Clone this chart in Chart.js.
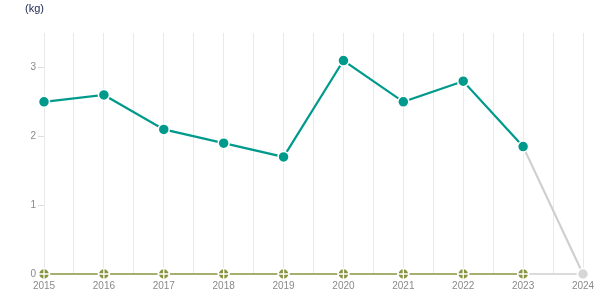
<!DOCTYPE html>
<html><head><meta charset="utf-8">
<script src="https://cdn.jsdelivr.net/npm/chart.js@4"></script>
<style>
body{margin:0;background:#fff;}
#wrap{position:relative;width:615px;height:305px;}
#unit{position:absolute;left:25px;top:2px;font:11px "Liberation Sans",Arial,sans-serif;color:#222a55;}
canvas{position:absolute;left:0;top:0;}
</style></head>
<body>
<div id="wrap"><canvas id="c" width="615" height="305"></canvas><div id="unit">(kg)</div></div>
<script>
const years = [2015,2016,2017,2018,2019,2020,2021,2022,2023,2024];
const mainValues = [2.5,2.6,2.1,1.9,1.7,3.1,2.5,2.8,1.85,0];
const baseValues = [0,0,0,0,0,0,0,0,0,0];
const yTicks = [0,1,2,3];

const teal = '#009a8c', olive = '#8a9440', grayC = '#cfcfcf';
const lastIdx = years.length - 1;
const ptColors = (c) => years.map((y,i)=> i===lastIdx ? '#d6d6d6' : c);
const segColor = (c) => ({ borderColor: ctx => ctx.p1DataIndex === lastIdx ? grayC : c });

new Chart(document.getElementById('c'), {
  type: 'line',
  data: {
    datasets: [
      {
        data: years.map((y,i)=>({x:y,y:mainValues[i]})),
        borderColor: teal, borderWidth: 2.2, clip: false,
        segment: segColor(teal),
        pointBackgroundColor: ptColors(teal), pointBorderColor: '#fff',
        pointBorderWidth: 1.5, pointRadius: 5.5, order: 1
      },
      {
        data: years.map((y,i)=>({x:y,y:baseValues[i]})),
        borderColor: olive, borderWidth: 1.5, clip: false,
        segment: segColor(olive),
        pointBackgroundColor: ptColors(olive), pointBorderColor: '#fff',
        pointBorderWidth: 1.5, pointRadius: 5.5, order: 3
      },
      {
        data: years.map((y,i)=>({x:y,y:baseValues[i]})),
        showLine: false, pointStyle: 'cross', pointRadius: 5.5, clip: false,
        pointBorderColor: '#fff', pointBorderWidth: 1.3, order: 2
      }
    ]
  },
  options: {
    responsive: false, animation: false,
    layout: { padding: { top: 33, right: 32, left: 0, bottom: 0 } },
    plugins: { legend: { display: false }, tooltip: { enabled: false } },
    scales: {
      x: {
        type: 'linear', min: 2015, max: 2024,
        afterFit: s => { s.height = 31; },
        grid: { color: '#e9e9e9', drawTicks: false, lineWidth: 1 },
        border: { display: false },
        ticks: {
          stepSize: 0.5, autoSkip: false, maxRotation: 0, padding: 6,
          color: '#8a8a8a', font: { size: 10, family: 'Liberation Sans' },
          callback: v => Number.isInteger(v) ? String(v) : ''
        }
      },
      y: {
        min: 0, max: 3.5,
        afterFit: s => { s.width = 44; },
        afterBuildTicks: s => { s.ticks = yTicks.map(v=>({value:v})); },
        grid: { drawOnChartArea: false, drawTicks: true, tickLength: 6, color: '#dddddd' },
        border: { display: false },
        ticks: { padding: 2, color: '#8a8a8a', font: { size: 10, family: 'Liberation Sans' } }
      }
    }
  }
});
</script>
</body></html>
